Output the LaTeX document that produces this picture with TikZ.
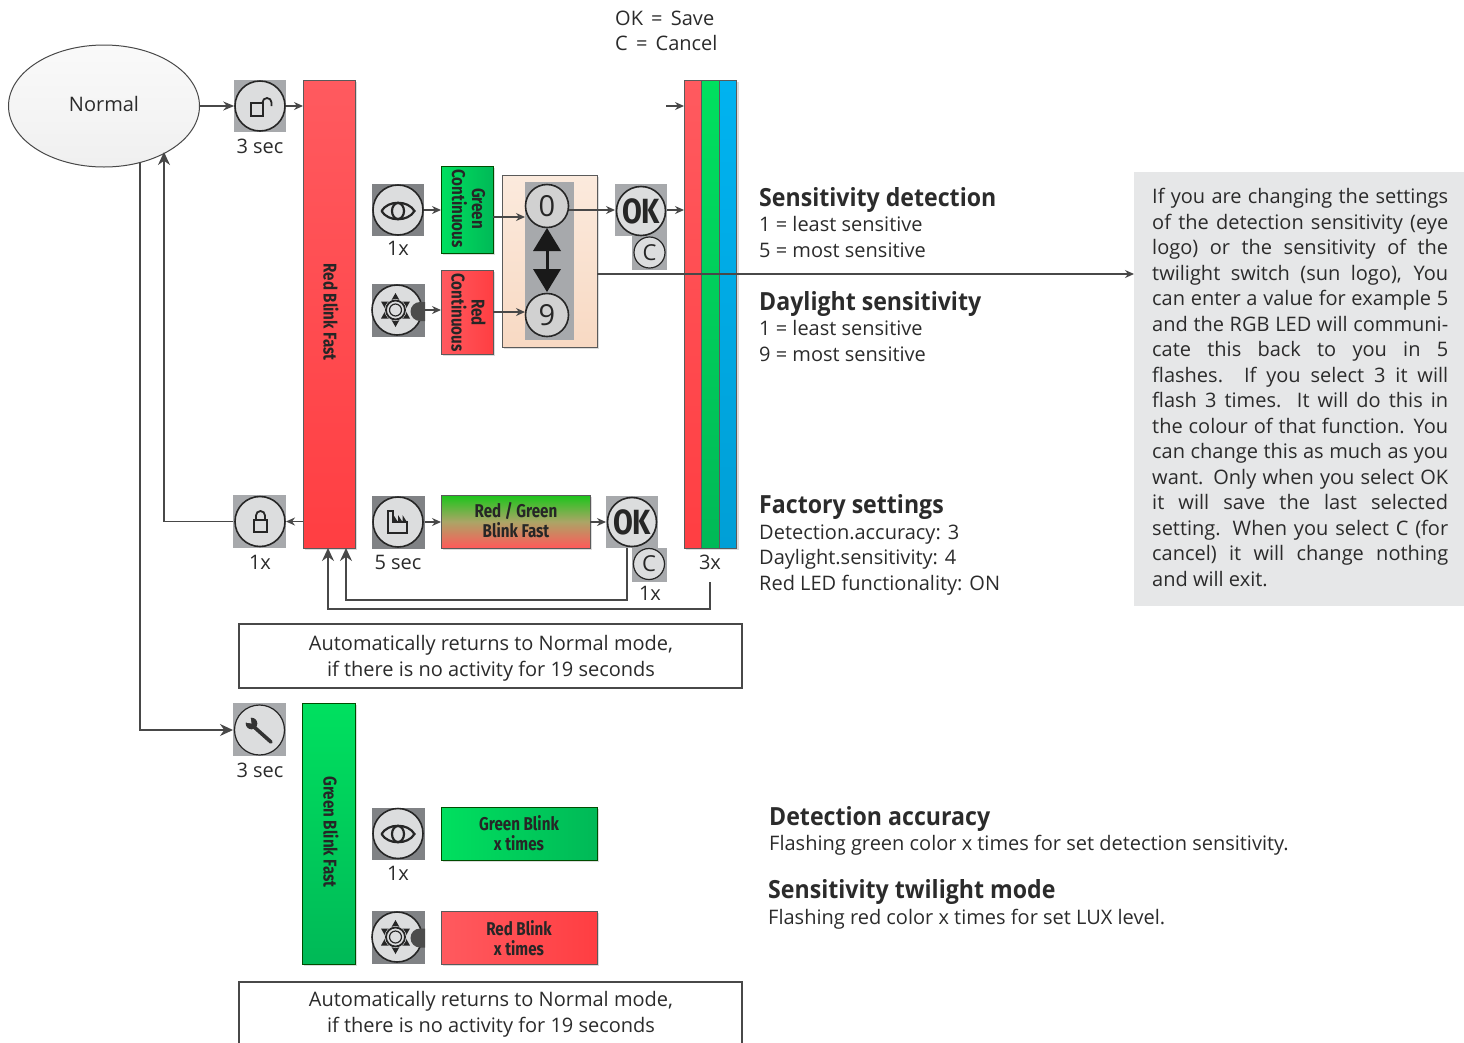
\documentclass[tikz,border=0pt]{standalone}
\usepackage{fontspec}
\setmainfont{Open Sans}
\newfontfamily\condf[FakeStretch=0.82]{Fira Sans}
\newfontfamily\headf[FakeStretch=0.925]{Open Sans}
\usetikzlibrary{arrows.meta,shadows,calc,shapes.geometric}
\definecolor{ink}{HTML}{484848}
\definecolor{txt}{HTML}{2B2B2B}
\definecolor{gbg}{HTML}{A7A9AC}
\definecolor{dbg}{HTML}{808285}
\definecolor{cface}{HTML}{DCDDDE}
\definecolor{panel}{HTML}{E6E7E8}
\newcommand{\bodyf}{\fontsize{20}{25.5}\selectfont}
\newcommand{\jl}[1]{\makebox[296pt][s]{#1}}
\tikzset{
  x=1pt,y=-1pt,
  base/.style={inner sep=0pt,outer sep=0pt,anchor=north west},
  shd/.style={general shadow={fill=black!14,shadow xshift=2pt,shadow yshift=-2pt}},
  conn/.style={draw=ink,line width=1.25pt,-{Stealth[length=9pt,width=8pt]}},
  bigconn/.style={draw=ink,line width=1.25pt,-{Stealth[length=13pt,width=12pt]}},
  plain/.style={draw=ink,line width=1.1pt},
  bar/.style={base,draw=ink!90,line width=1pt,shd},
  redv/.style={bar,top color=red1,bottom color=red2},
  greenv/.style={bar,top color=green1,bottom color=green2,draw=green!30!black},
  redh/.style={bar,left color=red1,right color=red2},
  greenh/.style={bar,left color=green1,right color=green2,draw=green!30!black},
  ibg/.style={base,fill=#1,draw=none},
  face/.style={circle,draw=black!85,line width=1.6pt,fill=cface,inner sep=0pt,minimum size=#1},
  lbl/.style={inner sep=0pt,text=txt,font=\bodyf},
  ltext/.style={inner sep=0pt,anchor=base west,text=txt,font=\bodyf},
  head/.style={inner sep=0pt,anchor=base west,text=txt,font=\headf\fontsize{25}{30}\selectfont\bfseries},
  vlab/.style={inner sep=0pt,rotate=-90,align=center,text=black!85,font=\condf\fontsize{18.5}{20}\selectfont\bfseries},
  hlab/.style={inner sep=0pt,align=center,text=black!85,font=\condf\fontsize{18.5}{20}\selectfont\bfseries},
  glyph/.style={draw=black!85,line width=1.8pt,fill=none},
  note/.style={base,draw=ink,line width=1.1pt,fill=white},
  okface/.style={face=49pt,font=\condf\fontsize{35}{36}\selectfont\bfseries,text=black!85},
  cface1/.style={face=31pt,line width=1.2pt,font=\fontsize{22}{24}\selectfont,text=black!85},
  digit/.style={face=43pt,fill=black!18,font=\fontsize{29}{30}\selectfont,text=black!85},
}
\definecolor{red1}{HTML}{FF5A5F}
\definecolor{red2}{HTML}{FF3E42}
\definecolor{green1}{HTML}{00E05F}
\definecolor{green2}{HTML}{00B957}
\definecolor{blue1}{HTML}{00B3F0}
\definecolor{blue2}{HTML}{009FD6}
\definecolor{peach1}{HTML}{FBEADD}
\definecolor{peach2}{HTML}{F8D9C3}
% glyphs, centred on the circle
\newcommand{\eyeglyph}[2]{\begin{scope}[shift={(#1,#2)}]
  \draw[glyph,line width=2.2pt] (-16.5,0) .. controls (-10,-11) and (10,-11) .. (16.5,0) .. controls (10,11) and (-10,11) .. (-16.5,0);
  \draw[glyph,line width=2.2pt] (0,0) ellipse [x radius=6,y radius=8];
\end{scope}}
\newcommand{\sunglyph}[2]{\begin{scope}[shift={(#1,#2)}]
  \fill[black!85] (0,-17) -- (14.5,8.5) -- (-14.5,8.5) -- cycle;
  \fill[black!85] (0,17) -- (14.5,-8.5) -- (-14.5,-8.5) -- cycle;
  \draw[draw=cface,fill=cface,line width=1pt] (0,0) circle [radius=10.5];
  \draw[glyph] (0,0) circle [radius=9.5];
  \draw[glyph,line width=1.2pt] (0,0) circle [radius=6];
\end{scope}}
\begin{document}
\begin{tikzpicture}
\useasboundingbox (0,0) rectangle (1464,1042);

% ---- top labels
\node[ltext] (oksave) at (615,25) {OK\hspace{3pt} = \hspace{3pt}Save};
\node[ltext] (ccancel) at (615,50) {C\hspace{3pt} = \hspace{3pt}Cancel};

% ---- normal
\node[ellipse,draw=ink,line width=1pt,minimum width=191pt,minimum height=122pt,inner sep=0pt,
  top color=black!2,bottom color=black!6,font=\bodyf,text=txt] (normal) at (104,106) {\raisebox{5pt}{Normal}};

% ---- main bars
\node[redv,minimum width=52pt,minimum height=468pt] (redbar) at (303,80) {};
\node[vlab] (redbarlab) at (331,312) {Red Blink Fast};

\node[bar,top color=red1,bottom color=red2,minimum width=17.5pt,minimum height=468pt] (cbr) at (684,80) {};
\node[bar,top color=green1,bottom color=green2,minimum width=17.5pt,minimum height=468pt] (cbg) at (701.5,80) {};
\node[bar,top color=blue1,bottom color=blue2,minimum width=17.5pt,minimum height=468pt] (cbb) at (719,80) {};
\coordinate (cbin) at (666,106);

% ---- open-lock icon
\node[ibg=gbg,minimum size=52pt] (openbg) at (234,80) {};
\node[face=50pt] (openic) at (260,106) {};
\draw[glyph] (251,103) rectangle (263,116);
\draw[glyph] (262.5,103) -- (262.5,102.5) arc[start angle=180,end angle=360,radius=4.5] -- (271.5,106);
\node[lbl] (open3) at (260,146) {3 sec};

% ---- eye / sun row
\node[ibg=dbg,minimum size=52pt] (eyebg) at (372,184) {};
\node[face=50pt] (eyeic) at (398,210) {};
\eyeglyph{398}{211}
\node[lbl] (eye1x) at (398,248) {1x};
\node[greenh,minimum width=52pt,minimum height=87pt] (gcont) at (441,166) {};
\node[vlab] (gcontlab) at (468.5,208.5) {Green\\Continuous};

\node[ibg=dbg,minimum size=53pt] (sunbg) at (372,284) {};
\node[face=50pt] (sunic) at (397,310) {};
\fill[black!70] (425,302) -- (420,302) arc[start angle=270,end angle=90,radius=9.5] -- (425,321) -- cycle;
\sunglyph{395.5}{310}
\node[redh,minimum width=52pt,minimum height=84pt] (rcont) at (441,270) {};
\node[vlab] (rcontlab) at (468.5,312.5) {Red\\Continuous};

% ---- 0..9 selector
\node[bar,top color=peach1,bottom color=peach2,minimum width=95pt,minimum height=172pt] (sel) at (502,175) {};
\node[ibg=gbg,minimum width=49pt,minimum height=158pt] (selbg) at (525,182) {};
\node[digit] (d0) at (547,206) {0};
\node[digit] (d9) at (547,315) {9};
\fill[black!90] (547,228) -- (561,251) -- (533,251) -- cycle;
\fill[black!90] (547,292) -- (561,269) -- (533,269) -- cycle;
\fill[black!90] (545.5,250) rectangle (548.5,270);

% ---- OK / C
\node[ibg=gbg,minimum size=52pt] (okbg) at (615,184) {};
\node[ibg=gbg,minimum width=35pt,minimum height=34pt] (cbg1) at (632,236) {};
\node[okface] (ok1) at (641,211) {OK};
\node[cface1] (c1) at (649.5,252.5) {C};

% ---- bottom row of the red bar
\node[ibg=gbg,minimum size=53pt] (lockbg) at (233,495) {};
\node[face=50pt] (lockic) at (260,521.5) {};
\draw[glyph] (254,520) rectangle (267,532);
\draw[glyph] (256,520) -- (256,515.5) arc[start angle=180,end angle=360,radius=4.5] -- (265,520);
\node[lbl] (lock1x) at (260,562) {1x};

\node[ibg=dbg,minimum size=52.5pt] (factbg) at (372,496) {};
\node[face=50pt] (factic) at (398,522) {};
\draw[glyph,line join=miter] (388,511) -- (393,511) -- (393,522) -- (407,522) -- (407,533) -- (388,533) -- cycle;
\fill[black!85] (393.5,522) -- (393.5,515) -- (398,522) -- cycle;
\fill[black!85] (398,522) -- (398,515) -- (402.5,522) -- cycle;
\fill[black!85] (402.5,522) -- (402.5,515) -- (407,522) -- cycle;
\node[lbl] (fact5) at (398,562) {5 sec};
\node[bar,top color=green!75!black!90!white,bottom color=red!65!white,middle color=black!25!green!55!red!60,minimum width=149pt,minimum height=53pt] (rgb) at (441,495) {};
\node[hlab] (rgblab) at (516,520.5) {Red / Green\\Blink Fast};

\node[ibg=gbg,minimum size=52pt] (ok2bg) at (606,496) {};
\node[ibg=gbg,minimum width=35pt,minimum height=34pt] (c2bg) at (632,548) {};
\node[okface] (ok2) at (632,522) {OK};
\node[cface1] (c2) at (649,564) {C};
\node[lbl] (c21x) at (650,593) {1x};
\node[lbl] (cb3x) at (710,562) {3x};

% ---- notes
\node[note,minimum width=503pt,minimum height=64pt] (note1) at (239,624) {};
\node[lbl,align=center] (note1t) at (491,658.5) {Automatically returns to Normal mode,\\if there is no activity for 19 seconds};
\draw[plain] (239,1043) -- (239,982) coordinate (n2a) -- (742,982) coordinate (n2b) -- (742,1043);
\node[lbl,align=center] (note2t) at (491,1014.5) {Automatically returns to Normal mode,\\if there is no activity for 19 seconds};

% ---- lower block
\node[ibg=gbg,minimum size=53pt] (wrbg) at (233,703) {};
\node[face=50pt,line width=1.2pt] (wric) at (259.5,730) {};
\draw[black!80,line width=3.6pt,line cap=round] (253,726) -- (271,742);
\fill[black!80] (251.5,723.5) circle [radius=5.8];
\fill[cface] (251.5,723.5) -- (250,714) -- (243,722) -- cycle;
\node[lbl] (wr3) at (260,770) {3 sec};
\node[greenv,minimum width=53pt,minimum height=261pt] (gbar) at (302,703) {};
\node[vlab] (gbarlab) at (331,832) {Green Blink Fast};
\node[ibg=dbg,minimum size=52.5pt] (eye2bg) at (372,807.5) {};
\node[face=50pt] (eye2ic) at (398,833.5) {};
\eyeglyph{398}{834}
\node[lbl] (eye21x) at (398,873) {1x};
\node[greenh,minimum width=156pt,minimum height=53pt] (gblink) at (441,807) {};
\node[hlab] (gblinklab) at (519,833) {Green Blink\\x times};
\node[ibg=dbg,minimum size=53pt] (sun2bg) at (372,911) {};
\node[face=50pt] (sun2ic) at (397,937) {};
\fill[black!70] (425,928.5) -- (420,928.5) arc[start angle=270,end angle=90,radius=9.5] -- (425,947.5) -- cycle;
\sunglyph{395.5}{937}
\node[redh,minimum width=156pt,minimum height=53pt] (rblink) at (441,911) {};
\node[hlab] (rblinklab) at (519,938) {Red Blink\\x times};

% ---- connectors
\draw[conn,-{Stealth[length=11pt,width=9pt]}] (normal.east) -- (openic.west);
\draw[conn] (openbg.east |- openic) -- (redbar.west |- openic);
\draw[conn] (eyebg.east |- eyeic) -- (gcont.west |- eyeic);
\draw[conn] (sunbg.east |- sunic) -- (rcont.west |- sunic);
\draw[conn] (gcont.east |- 0,217) -- (selbg.west |- 0,217);
\draw[conn] (rcont.east |- 0,312) -- (selbg.west |- 0,312);
\draw[conn] (d0.east |- 0,210) -- (okbg.west |- 0,210);
\draw[conn] (okbg.east |- 0,210) -- (cbr.west |- 0,210);
\draw[conn] (cbin) -- (cbr.west |- cbin);
\draw[conn] (redbar.west |- lockic) -- (lockbg.east |- lockic);
\draw[conn] (factbg.east |- factic) -- (rgb.west |- factic);
\draw[conn] (rgb.east |- ok2) -- (ok2bg.west |- ok2);
\draw[bigconn] (lockbg.west |- lockic) -| (164,152);
\draw[bigconn] (140,163) -- (140,730) -- (wrbg.west |- wric);
\draw[bigconn] (627,548) -- (627,600) -- (346,600) -- (346,548);
\draw[bigconn] (cb3x.south |- 0,582) -- (710,609) -- (328,609) -- (328,548);

% ---- descriptions
\node[head] (h1) at (759,206) {Sensitivity detection};
\node[ltext] (h1a) at (759,231) {1 = least sensitive};
\node[ltext] (h1b) at (759,257) {5 = most sensitive};
\node[head] (h2) at (759,310) {Daylight sensitivity};
\node[ltext] (h2a) at (759,335) {1 = least sensitive};
\node[ltext] (h2b) at (759,361) {9 = most sensitive};
\node[head] (h3) at (759,513) {Factory settings};
\node[ltext] (h3a) at (759,539) {Detection.accuracy: 3};
\node[ltext] (h3b) at (759,564) {Daylight.sensitivity: 4};
\node[ltext] (h3c) at (759,590) {Red LED functionality: ON};
\node[head] (h4) at (769,825) {Detection accuracy};
\node[ltext] (h4a) at (769,850) {Flashing green color x times for set detection sensitivity.};
\node[head] (h5) at (768,898) {Sensitivity twilight mode};
\node[ltext] (h5a) at (768,924) {Flashing red color x times for set LUX level.};

% ---- explanation
\node[base,fill=panel,minimum width=330pt,minimum height=434pt] (expl) at (1134,172) {};
\node[anchor=north west,inner sep=0pt,align=left,text=txt,font=\bodyf] (expltext) at (1152,188) {%
\jl{If you are changing the settings}\\
\jl{of the detection sensitivity (eye}\\
\jl{logo) or the sensitivity of the}\\
\jl{twilight switch (sun logo), You}\\
\jl{can enter a value for example 5}\\
\jl{and the RGB LED will communi-}\\
\jl{cate this back to you in 5}\\
\jl{flashes. If you select 3 it will}\\
\jl{flash 3 times. It will do this in}\\
\jl{the colour of that function. You}\\
\jl{can change this as much as you}\\
\jl{want. Only when you select OK}\\
\jl{it will save the last selected}\\
\jl{setting. When you select C (for}\\
\jl{cancel) it will change nothing}\\
and will exit.};
\draw[conn] (sel.east |- 0,274) -- (expl.west |- 0,274);
\end{tikzpicture}
\end{document}
